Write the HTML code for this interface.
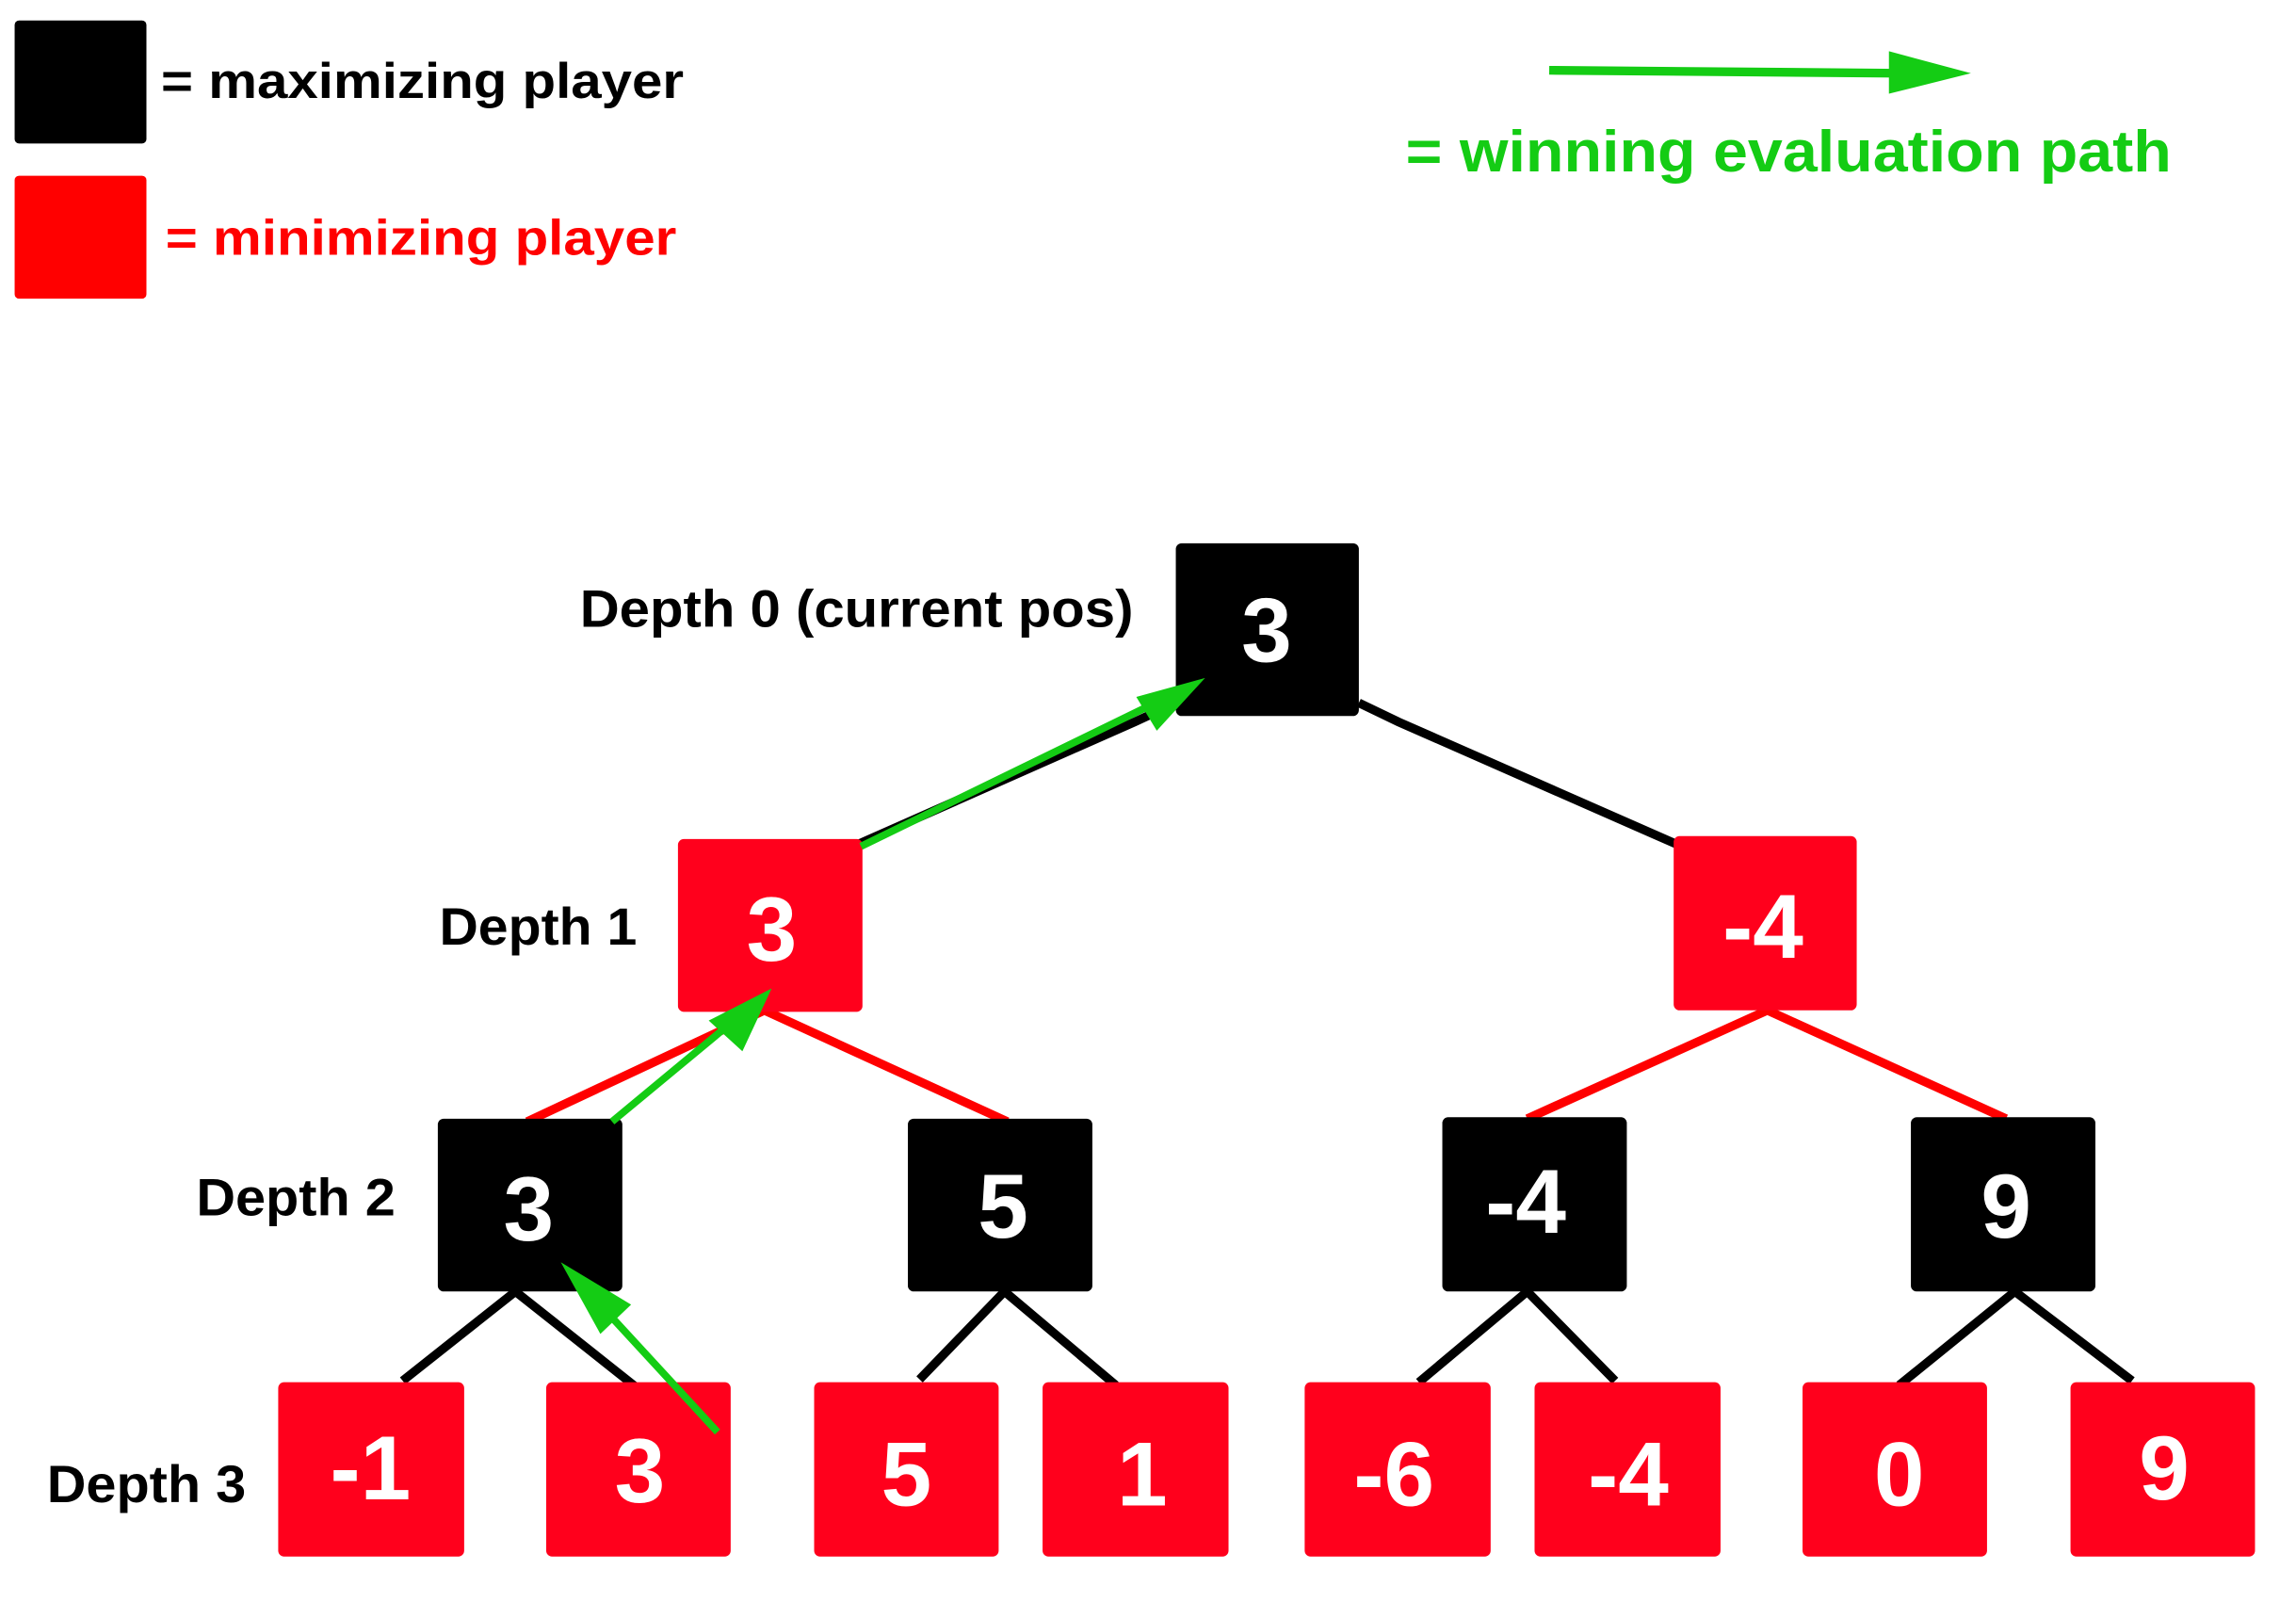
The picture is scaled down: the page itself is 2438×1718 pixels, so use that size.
<!DOCTYPE html>
<html><head><meta charset="utf-8"><style>
html,body{margin:0;padding:0;background:#fff;width:2438px;height:1718px;overflow:hidden}
svg{display:block}
text{font-family:"Liberation Sans",Arial,sans-serif;font-weight:bold}
</style></head><body>
<svg width="2438" height="1718" viewBox="0 0 1568 1105" preserveAspectRatio="none">
<!-- legend -->
<rect x="10" y="14" width="90" height="84" rx="3" fill="#000"/>
<rect x="10" y="120" width="90" height="84" rx="3" fill="#ff0000"/>
<text x="110" y="67" font-size="34" fill="#000" textLength="357" lengthAdjust="spacingAndGlyphs">= maximizing player</text>
<text x="113" y="174" font-size="34" fill="#ff0000" textLength="349" lengthAdjust="spacingAndGlyphs">= minimizing player</text>
<line x1="1058" y1="48" x2="1295" y2="50" stroke="#14cc14" stroke-width="6"/>
<polygon points="1290,35 1346,50 1290,64" fill="#14cc14"/>
<text x="960" y="117" font-size="40" fill="#14cc14" textLength="523" lengthAdjust="spacingAndGlyphs">= winning evaluation path</text>

<!-- edges -->
<g stroke-width="6" fill="none">
<polyline points="585,577 775,493 803,480" stroke="#000"/>
<polyline points="928,480 955,493 1146,577" stroke="#000"/>
<polyline points="360,766 522,690 688,766" stroke="#ff0000"/>
<polyline points="1043,764 1207,690 1370,764" stroke="#ff0000"/>
<polyline points="275,943 352,882 434,947" stroke="#000"/>
<polyline points="628,942 686,882 762,946" stroke="#000"/>
<polyline points="969,944 1043,882 1103,943" stroke="#000"/>
<polyline points="1297,946 1376,882 1456,943" stroke="#000"/>
</g>

<!-- nodes -->
<g font-size="62" fill="#fff" text-anchor="middle">
<rect x="803" y="371" width="125" height="118" rx="4" fill="#000"/><text x="865" y="452">3</text>
<rect x="463" y="573" width="126" height="118" rx="4" fill="#ff001c"/><text x="527" y="656">3</text>
<rect x="1143" y="571" width="125" height="119" rx="4" fill="#ff001c"/><text x="1204" y="654">-4</text>
<rect x="299" y="764" width="126" height="118" rx="4" fill="#000"/><text x="361" y="847">3</text>
<rect x="620" y="764" width="126" height="118" rx="4" fill="#000"/><text x="685" y="845">5</text>
<rect x="985" y="763" width="126" height="119" rx="4" fill="#000"/><text x="1042" y="842">-4</text>
<rect x="1305" y="763" width="126" height="119" rx="4" fill="#000"/><text x="1370" y="845">9</text>
<rect x="190" y="944" width="127" height="119" rx="4" fill="#ff001c"/><text x="253" y="1024">-1</text>
<rect x="373" y="944" width="126" height="119" rx="4" fill="#ff001c"/><text x="437" y="1026">3</text>
<rect x="556" y="944" width="126" height="119" rx="4" fill="#ff001c"/><text x="619" y="1028">5</text>
<rect x="712" y="944" width="127" height="119" rx="4" fill="#ff001c"/><text x="780" y="1028">1</text>
<rect x="891" y="944" width="127" height="119" rx="4" fill="#ff001c"/><text x="952" y="1028">-6</text>
<rect x="1048" y="944" width="127" height="119" rx="4" fill="#ff001c"/><text x="1112" y="1028">-4</text>
<rect x="1231" y="944" width="126" height="119" rx="4" fill="#ff001c"/><text x="1297" y="1028">0</text>
<rect x="1414" y="944" width="126" height="119" rx="4" fill="#ff001c"/><text x="1478" y="1024">9</text>
</g>

<!-- green path arrows -->
<g stroke="#14cc14" stroke-width="5" fill="#14cc14">
<line x1="588" y1="578" x2="785" y2="482"/>
<polygon points="823,463 790,499 776,476" stroke="none"/>
<line x1="418" y1="766" x2="500" y2="698"/>
<polygon points="527,675 507,718 484,697" stroke="none"/>
<line x1="490" y1="978" x2="408" y2="889"/>
<polygon points="383,862 431,891 410,911" stroke="none"/>
</g>

<!-- depth labels -->
<g font-size="36" fill="#000">
<text x="774" y="428" text-anchor="end" textLength="378" lengthAdjust="spacingAndGlyphs">Depth 0 (current pos)</text>
<text x="300" y="645" textLength="135" lengthAdjust="spacingAndGlyphs">Depth 1</text>
<text x="134" y="830" textLength="136" lengthAdjust="spacingAndGlyphs">Depth 2</text>
<text x="32" y="1026" textLength="136" lengthAdjust="spacingAndGlyphs">Depth 3</text>
</g>
</svg>
</body></html>
